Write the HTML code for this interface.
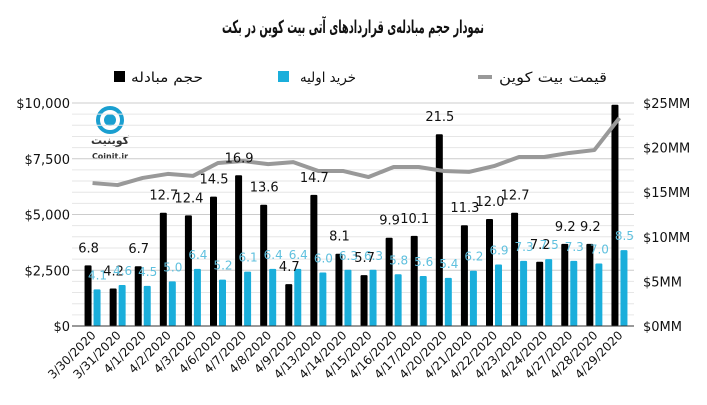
<!DOCTYPE html>
<html><head><meta charset="utf-8"><style>
body{margin:0;background:#fff;width:707px;height:400px;overflow:hidden;font-family:"Liberation Sans","DejaVu Sans",sans-serif}
svg text{font-family:"DejaVu Sans","Liberation Sans","Noto Sans CJK SC",sans-serif}
</style></head><body>
<svg id="chart" width="707" height="400">
<text x="353" y="33" text-anchor="middle" font-size="18" font-weight="bold" fill="#111" textLength="262" lengthAdjust="spacingAndGlyphs">نمودار حجم مبادله‌ی قراردادهای آتی بیت کوین در بکت</text>
<g>
<rect x="114" y="71" width="11" height="11" fill="#000"/>
<text x="131" y="82" font-size="14" fill="#111" textLength="72" lengthAdjust="spacingAndGlyphs">حجم مبادله</text>
<rect x="278" y="71" width="11" height="11" fill="#1aaedb"/>
<text x="300" y="82" font-size="14" fill="#111" textLength="56" lengthAdjust="spacingAndGlyphs">خرید اولیه</text>
<rect x="478" y="75" width="14" height="4" fill="#999"/>
<text x="499" y="82" font-size="14" fill="#111" textLength="108" lengthAdjust="spacingAndGlyphs">قیمت بیت کوین</text>
</g>
<g>
<circle cx="110" cy="120" r="12" fill="none" stroke="#1a9fd0" stroke-width="4"/>
<circle cx="110" cy="120" r="6" fill="#1a9fd0"/>
<text x="110" y="144" text-anchor="middle" font-size="11" font-weight="bold" fill="#333">کوینیت</text>
<text x="110" y="159" text-anchor="middle" font-size="8" font-weight="bold" fill="#333">Coinit.ir</text>
</g>
<g id="grid"></g><g id="bars"></g><g id="line"></g><g id="labels"></g><g id="axes"></g>
</svg>
<script>
const categories=["3/30/2020","3/31/2020","4/1/2020","4/2/2020","4/3/2020","4/6/2020","4/7/2020","4/8/2020","4/9/2020","4/13/2020","4/14/2020","4/15/2020","4/16/2020","4/17/2020","4/20/2020","4/21/2020","4/22/2020","4/23/2020","4/24/2020","4/27/2020","4/28/2020","4/29/2020"];
const volume=[6.8,4.2,6.7,12.7,12.4,14.5,16.9,13.6,4.7,14.7,8.1,5.7,9.9,10.1,21.5,11.3,12.0,12.7,7.2,9.2,9.2,24.8];
const volumeLabels=["6.8","4.2","6.7","12.7","12.4","14.5","16.9","13.6","4.7","14.7","8.1","5.7","9.9","10.1","21.5","11.3","12.0","12.7","7.2","9.2","9.2",""];
const initial=[4.1,4.6,4.5,5.0,6.4,5.2,6.1,6.4,6.4,6.0,6.3,6.3,5.8,5.6,5.4,6.2,6.9,7.3,7.5,7.3,7.0,8.5];
const price=[6410,6320,6640,6820,6730,7310,7400,7260,7350,6950,6950,6680,7130,7130,6950,6910,7170,7580,7580,7760,7890,9330];
const leftTicks=[0,2500,5000,7500,10000];
const leftTickLabels=["$0","$2,500","$5,000","$7,500","$10,000"];
const rightTicks=[0,5,10,15,20,25];
const rightTickLabels=["$0MM","$5MM","$10MM","$15MM","$20MM","$25MM"];
const NS="http://www.w3.org/2000/svg";
const X0=80,X1=632,Y0=326,Y1=103;
const yL=v=>Y0-(v/10000)*(Y0-Y1);
const yR=v=>Y0-(v/25)*(Y0-Y1);
const step=(X1-X0)/categories.length;
const xC=i=>X0+step*(i+0.5);
function mk(tag,attrs,parent){const e=document.createElementNS(NS,tag);for(const k in attrs)e.setAttribute(k,attrs[k]);document.getElementById(parent).appendChild(e);return e;}
for(let i=0;i<=20;i++){const v=i*500;
 const g=mk('line',{x1:X0-8,x2:X1+2,y1:yL(v),y2:yL(v),stroke:i%5==0?'#ccc':'#e6e6e6','stroke-width':1},'grid');
 
 }
leftTicks.forEach((v,i)=>{const t=mk('text',{x:70,y:yL(v)+5,'text-anchor':'end','font-size':13,fill:'#111'},'axes');t.textContent=leftTickLabels[i];
 
 });
rightTicks.forEach((v,i)=>{const t=mk('text',{x:643,y:yR(v)+5,'font-size':13,fill:'#111'},'axes');t.textContent=rightTickLabels[i];
 
 });
const ax=mk('line',{x1:X0-8,x2:X1+2,y1:Y0,y2:Y0,stroke:'#333','stroke-width':1},'axes');


categories.forEach((c,i)=>{const cx=xC(i);
 const b=mk('rect',{x:cx-8,y:yR(volume[i]),width:7,height:Y0-yR(volume[i]),fill:'#000',rx:1},'bars');
 
 
 const b2=mk('rect',{x:cx+1,y:yR(initial[i]),width:7,height:Y0-yR(initial[i]),fill:'#1aaedb',rx:1},'bars');
 
 
 const t=mk('text',{x:cx-4,y:yR(volume[i])-13,'text-anchor':'middle','font-size':13,fill:'#111'},'labels');t.textContent=volumeLabels[i];
 
 
 const t2=mk('text',{x:cx+5,y:yR(initial[i])-10,'text-anchor':'middle','font-size':12,fill:'#5fc0de'},'labels');t2.textContent=initial[i].toFixed(1);
 
 
 const xl=mk('text',{x:cx+4,y:Y0+10,'text-anchor':'end','font-size':12,fill:'#111',transform:`rotate(-45 ${cx+4} ${Y0+10})`},'axes');xl.textContent=c;
 
 
});
const pl=mk('polyline',{points:price.map((v,i)=>xC(i)+','+yL(v)).join(' '),fill:'none',stroke:'#999','stroke-width':4,'stroke-linejoin':'round'},'line');


</script>
</body></html>
